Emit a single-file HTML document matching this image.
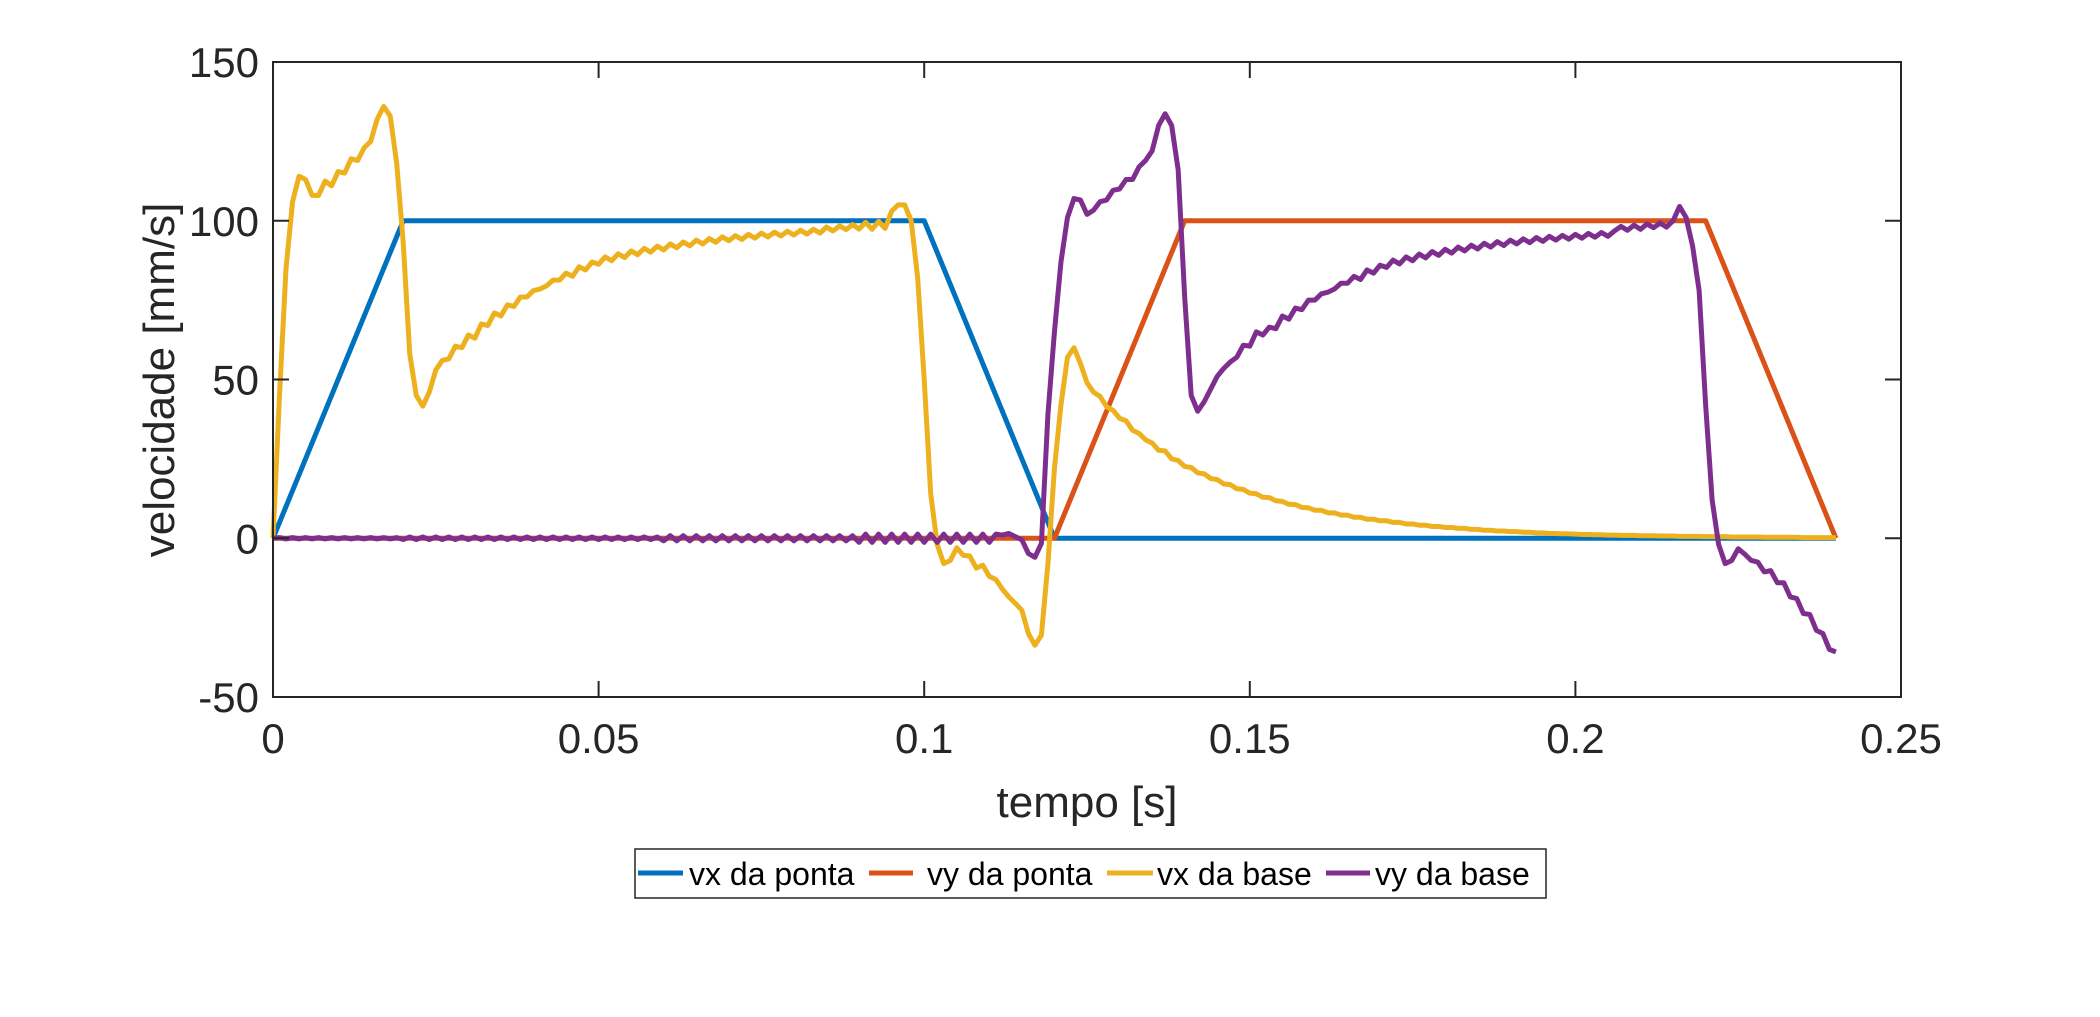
<!DOCTYPE html>
<html><head><meta charset="utf-8"><style>
html,body{margin:0;padding:0;background:#fff;}
svg{display:block;font-family:"Liberation Sans",Arial,sans-serif;}
</style></head><body>
<svg id="chart" width="2100" height="1017" viewBox="0 0 2100 1017" xmlns="http://www.w3.org/2000/svg">
<rect x="0" y="0" width="2100" height="1017" fill="#fff"/>
<g id="marks"></g>
<rect x="273" y="62" width="1628" height="635" fill="none" stroke="#262626" stroke-width="2"/>
<g id="ticks"></g>
<text x="1087" y="817" font-size="44" fill="#262626" text-anchor="middle">tempo [s]</text>
<text x="0" y="0" font-size="44" fill="#262626" text-anchor="middle" transform="translate(174,380) rotate(-90)">velocidade [mm/s]</text>
<g>
<rect x="635" y="849" width="911" height="49" fill="#fff" stroke="#262626" stroke-width="1.5"/>
<g><line x1="638" y1="873" x2="683" y2="873" stroke="#0072BD" stroke-width="5"/><text x="689" y="885" font-size="32" fill="#000">vx da ponta</text></g>
<g><line x1="869" y1="873" x2="913" y2="873" stroke="#D95319" stroke-width="5"/><text x="927" y="885" font-size="32" fill="#000">vy da ponta</text></g>
<g><line x1="1107" y1="873" x2="1153" y2="873" stroke="#EDB120" stroke-width="5"/><text x="1157" y="885" font-size="32" fill="#000">vx da base</text></g>
<g><line x1="1326" y1="873" x2="1370" y2="873" stroke="#7E2F8E" stroke-width="5"/><text x="1375" y="885" font-size="32" fill="#000">vy da base</text></g>
</g>
</svg>
<script>
const xTicks = [0, 0.05, 0.1, 0.15, 0.2, 0.25];
const xTickLabels = ["0", "0.05", "0.1", "0.15", "0.2", "0.25"];
const yTicks = [-50, 0, 50, 100, 150];
const yTickLabels = ["-50", "0", "50", "100", "150"];
const sampleStep = 0.001;
const vxPontaTimes = [0, 0.02, 0.1, 0.12, 0.24];
const vxPontaValues = [0, 100, 100, 0, 0];
const vyPontaTimes = [0, 0.12, 0.14, 0.22, 0.24];
const vyPontaValues = [0, 0, 100, 100, 0];
const vxBaseValues = [
0,45,85,106,114,113,108,108,112.5,111,
115.5,115,119.5,119,123,125,132,136,133,118,
93,58,45,41.6,46,53,56,56.5,60.5,60,
64,63,67.5,67,71,70,73.5,73,76,76,
78,78.5,79.5,81.3,81.3,83.5,82.5,85.5,84.5,87,
86.3,88.6,87.4,89.6,88.4,90.5,89.3,91.3,90.1,92.0,
90.8,92.7,91.5,93.3,92.1,93.9,92.7,94.4,93.2,94.9,
93.7,95.3,94.1,95.7,94.5,96.1,94.9,96.4,95.2,96.7,
95.5,97.0,95.8,97.3,96.1,98,96.8,98.4,97.2,98.8,
97.4,99.5,97.3,99.8,97.6,103,105,105,100,82,
50,14,-2,-8,-7,-3,-5.4,-5.6,-9.4,-8.5,
-12,-13,-16,-18.5,-20.5,-22.7,-30,-33.7,-30.5,-8,
22,42,57,60,55,49,46,44.7,41.4,40.3,
37.8,37,34,33,31,30,27.7,27.5,25,24.5,
22.6,22.3,20.6,20.3,18.8,18.5,17.1,16.9,15.6,15.4,
14.2,14.0,12.9,12.8,11.8,11.6,10.7,10.6,9.7,9.6,
8.8,8.8,8.0,8.0,7.3,7.3,6.6,6.6,6.0,6.0,
5.5,5.5,5.0,5.0,4.5,4.5,4.1,4.1,3.7,3.7,
3.4,3.4,3.1,3.1,2.8,2.8,2.5,2.5,2.3,2.3,
2.1,2.1,1.9,1.9,1.7,1.7,1.5,1.5,1.4,1.4,
1.3,1.2,1.2,1.1,1.1,1.0,1.0,0.9,0.9,0.9,
0.8,0.8,0.8,0.7,0.7,0.7,0.6,0.6,0.6,0.6,
0.5,0.5,0.5,0.5,0.4,0.4,0.4,0.4,0.4,0.3,
0.3,0.3,0.3,0.3,0.3,0.2,0.2,0.2,0.2,0.2,0.2
];
const vyBaseValues = [
0,0.2,-0.2,0.2,-0.2,0.2,-0.2,0.2,-0.2,0.2,
-0.2,0.2,-0.2,0.2,-0.2,0.2,-0.2,0.2,-0.2,0.2,
-0.4,0.4,-0.4,0.4,-0.4,0.4,-0.4,0.4,-0.4,0.4,
-0.4,0.4,-0.4,0.4,-0.4,0.4,-0.4,0.4,-0.4,0.4,
-0.4,0.4,-0.4,0.4,-0.4,0.4,-0.4,0.4,-0.4,0.4,
-0.4,0.4,-0.4,0.4,-0.4,0.4,-0.4,0.4,-0.4,0.4,
-0.8,0.8,-0.8,0.8,-0.8,0.8,-0.8,0.8,-0.8,0.8,
-0.8,0.8,-0.8,0.8,-0.8,0.8,-0.8,0.8,-0.8,0.8,
-0.8,0.8,-0.8,0.8,-0.8,0.8,-0.8,0.8,-0.8,0.8,
-1.3,1.3,-1.3,1.3,-1.3,1.3,-1.3,1.3,-1.3,1.3,
-1.3,1.3,-1.3,1.3,-1.3,1.3,-1.3,1.3,-1.3,1.3,
-1.3,1.3,1.0,1.5,0.5,-0.5,-4.8,-6,-1.6,39,
65,87,101,107,106.5,102,103.3,106,106.5,109.6,
110,113,113,117,119,122,130,133.7,130,116,
76,45,40,43,47,51,53.5,55.5,57,60.8,
60.5,65,64,66.5,66,70,69,72.5,72,75,
75,77,77.5,78.5,80.3,80.3,82.5,81.5,84.5,83.5,
86,85.3,87.6,86.4,88.6,87.4,89.5,88.3,90.3,89.1,
91.0,89.8,91.7,90.5,92.3,91.1,92.9,91.7,93.4,92.2,
93.9,92.7,94.3,93.1,94.7,93.5,95.1,93.9,95.4,94.2,
95.7,94.5,96.0,94.8,96.3,95.1,96.8,98.2,97.0,98.6,
97.3,99.0,97.8,99.3,98.0,100,104.5,101,92,78,
42,12,-2,-8,-7,-3.3,-5,-7,-7.5,-10.6,
-10.2,-14,-14,-18.5,-19,-23.7,-24,-29,-30,-35,-35.8
];

const X0 = 273, X1 = 1901, Y0 = 697, Y1 = 62;
const xMin = 0, xMax = 0.25, yMin = -50, yMax = 150;
function xs(t){ return X0 + (t - xMin) / (xMax - xMin) * (X1 - X0); }
function ys(v){ return Y0 - (v - yMin) / (yMax - yMin) * (Y0 - Y1); }
const NS = "http://www.w3.org/2000/svg";
const marks = document.getElementById("marks");
const ticks = document.getElementById("ticks");

function addLine(times, values, color, name){
  const pts = values.map((v,i)=> xs(times ? times[i] : i*sampleStep).toFixed(2)+","+ys(v).toFixed(2)).join(" ");
  const pl = document.createElementNS(NS,"polyline");
  pl.setAttribute("points", pts);
  pl.setAttribute("fill","none");
  pl.setAttribute("stroke", color);
  pl.setAttribute("stroke-width","5");
  pl.setAttribute("stroke-linejoin","round");
  
  
  marks.appendChild(pl);
}
addLine(vxPontaTimes, vxPontaValues, "#0072BD", "line-vx-da-ponta");
addLine(vyPontaTimes, vyPontaValues, "#D95319", "line-vy-da-ponta");
addLine(null, vxBaseValues, "#EDB120", "line-vx-da-base");
addLine(null, vyBaseValues, "#7E2F8E", "line-vy-da-base");

xTicks.forEach((t,i)=>{
  const x = xs(t);
  [[Y0, Y0-16],[Y1, Y1+16]].forEach(p=>{
    const l = document.createElementNS(NS,"line");
    l.setAttribute("x1",x); l.setAttribute("x2",x);
    l.setAttribute("y1",p[0]); l.setAttribute("y2",p[1]);
    l.setAttribute("stroke","#262626"); l.setAttribute("stroke-width","2");
    
    
    ticks.appendChild(l);
  });
  const tx = document.createElementNS(NS,"text");
  tx.setAttribute("x",x); tx.setAttribute("y",753);
  tx.setAttribute("font-size","42"); tx.setAttribute("fill","#262626");
  tx.setAttribute("text-anchor","middle");
  tx.textContent = xTickLabels[i];
  
  
  ticks.appendChild(tx);
});
yTicks.forEach((v,i)=>{
  const y = ys(v);
  [[X0, X0+16],[X1, X1-16]].forEach(p=>{
    const l = document.createElementNS(NS,"line");
    l.setAttribute("x1",p[0]); l.setAttribute("x2",p[1]);
    l.setAttribute("y1",y); l.setAttribute("y2",y);
    l.setAttribute("stroke","#262626"); l.setAttribute("stroke-width","2");
    
    
    ticks.appendChild(l);
  });
  const tx = document.createElementNS(NS,"text");
  tx.setAttribute("x",259); tx.setAttribute("y",y+15);
  tx.setAttribute("font-size","42"); tx.setAttribute("fill","#262626");
  tx.setAttribute("text-anchor","end");
  tx.textContent = yTickLabels[i];
  
  
  ticks.appendChild(tx);
});
</script>
</body></html>
